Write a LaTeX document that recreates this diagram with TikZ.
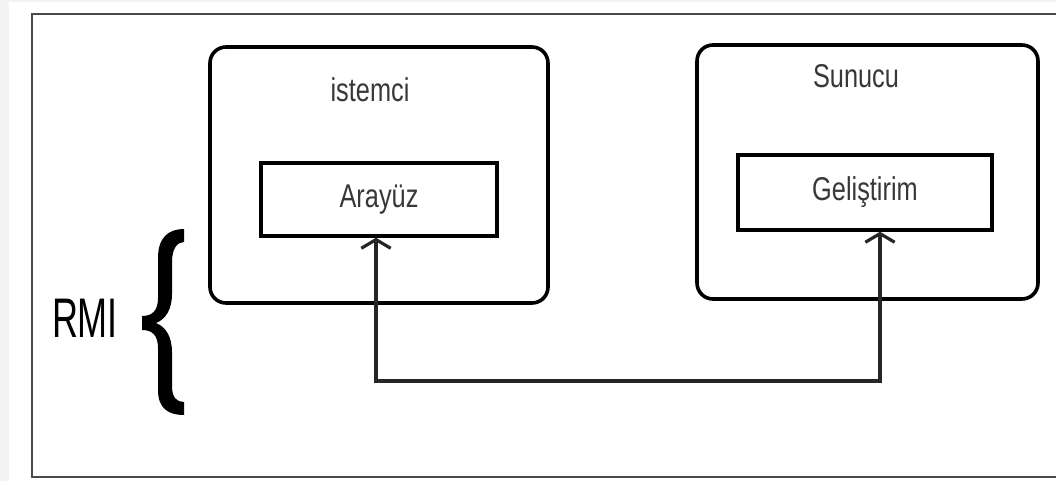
\documentclass[tikz,border=0pt]{standalone}
\usepackage{fontspec}
\setmainfont{Liberation Sans}
\usetikzlibrary{arrows.meta,calc}
\definecolor{bggray}{HTML}{F3F3F3}
\definecolor{framegray}{HTML}{4A4A4A}
\definecolor{txtgray}{HTML}{383838}
\definecolor{linegray}{HTML}{262626}
\newcommand{\lbl}[1]{\scalebox{1}[1.3]{\fontsize{19}{22}\selectfont #1}}
\tikzset{
  rbox/.style={draw=black, line width=2.7pt, rounded corners=12pt, inner sep=0pt},
  ibox/.style={draw=black, line width=2.6pt, inner sep=0pt, text=txtgray},
  ttl/.style={text=txtgray, inner sep=0pt},
  barb/.tip={Straight Barb[width=22pt,length=6.5pt]},
  conn/.style={draw=linegray, line width=2.4pt, barb-barb},
  frame/.style={draw=framegray, line width=1.8pt},
}
\begin{document}
\begin{tikzpicture}[x=0.75pt,y=-0.75pt]
\useasboundingbox (0,0) rectangle (1056,481);
\clip (0,0) rectangle (1056,481);
\fill[bggray] (0,0) rectangle (1056,481);
\fill[white] (9,2) rectangle (1056,481);
\draw[frame] (32,14) rectangle (1070,477);

% client
\node[rbox, minimum width=253.5pt, minimum height=192pt] (cli) at (379,175) {};
\node[ttl] (clit) at (370,90) {\lbl{istemci}};
\node[ibox, minimum width=177pt, minimum height=54.75pt] (ara) at (379,199.5) {\lbl{Arayüz}};

% server
\node[rbox, minimum width=255.75pt, minimum height=190.5pt] (srv) at (867.5,172) {};
\node[ttl] (srvt) at (856,76) {\lbl{Sunucu}};
\node[ibox, minimum width=190.5pt, minimum height=56.25pt] (gel) at (865,192.5) {\lbl{Geliştirim}};

% connector
\coordinate (low) at (0,381);
\coordinate (ga) at ($(ara.south)+(-3,0)$);
\coordinate (gb) at ($(gel.south)+(15,0)$);
\draw[conn] (ga) |- (low -| gb) -- (gb);

% RMI and brace
\node[text=black, inner sep=0pt] (rmi) at (85,318) {\scalebox{1}[1.55]{\fontsize{27}{30}\selectfont RMI}};
\fill[black] (184,229) .. controls (169,229) and (158,237) .. (158,258) -- (158,298)
  .. controls (158,311) and (152,316) .. (142,316) -- (142,330)
  .. controls (152,330) and (158,335) .. (158,348) -- (158,390)
  .. controls (158,409) and (169,415) .. (184,415) -- (184,402)
  .. controls (177,402) and (172,398) .. (172,386) -- (172,352)
  .. controls (172,337) and (166,327) .. (156,323)
  .. controls (166,319) and (172,309) .. (172,294) -- (172,262)
  .. controls (172,249) and (177,242) .. (184,242) -- cycle;
\end{tikzpicture}
\end{document}
